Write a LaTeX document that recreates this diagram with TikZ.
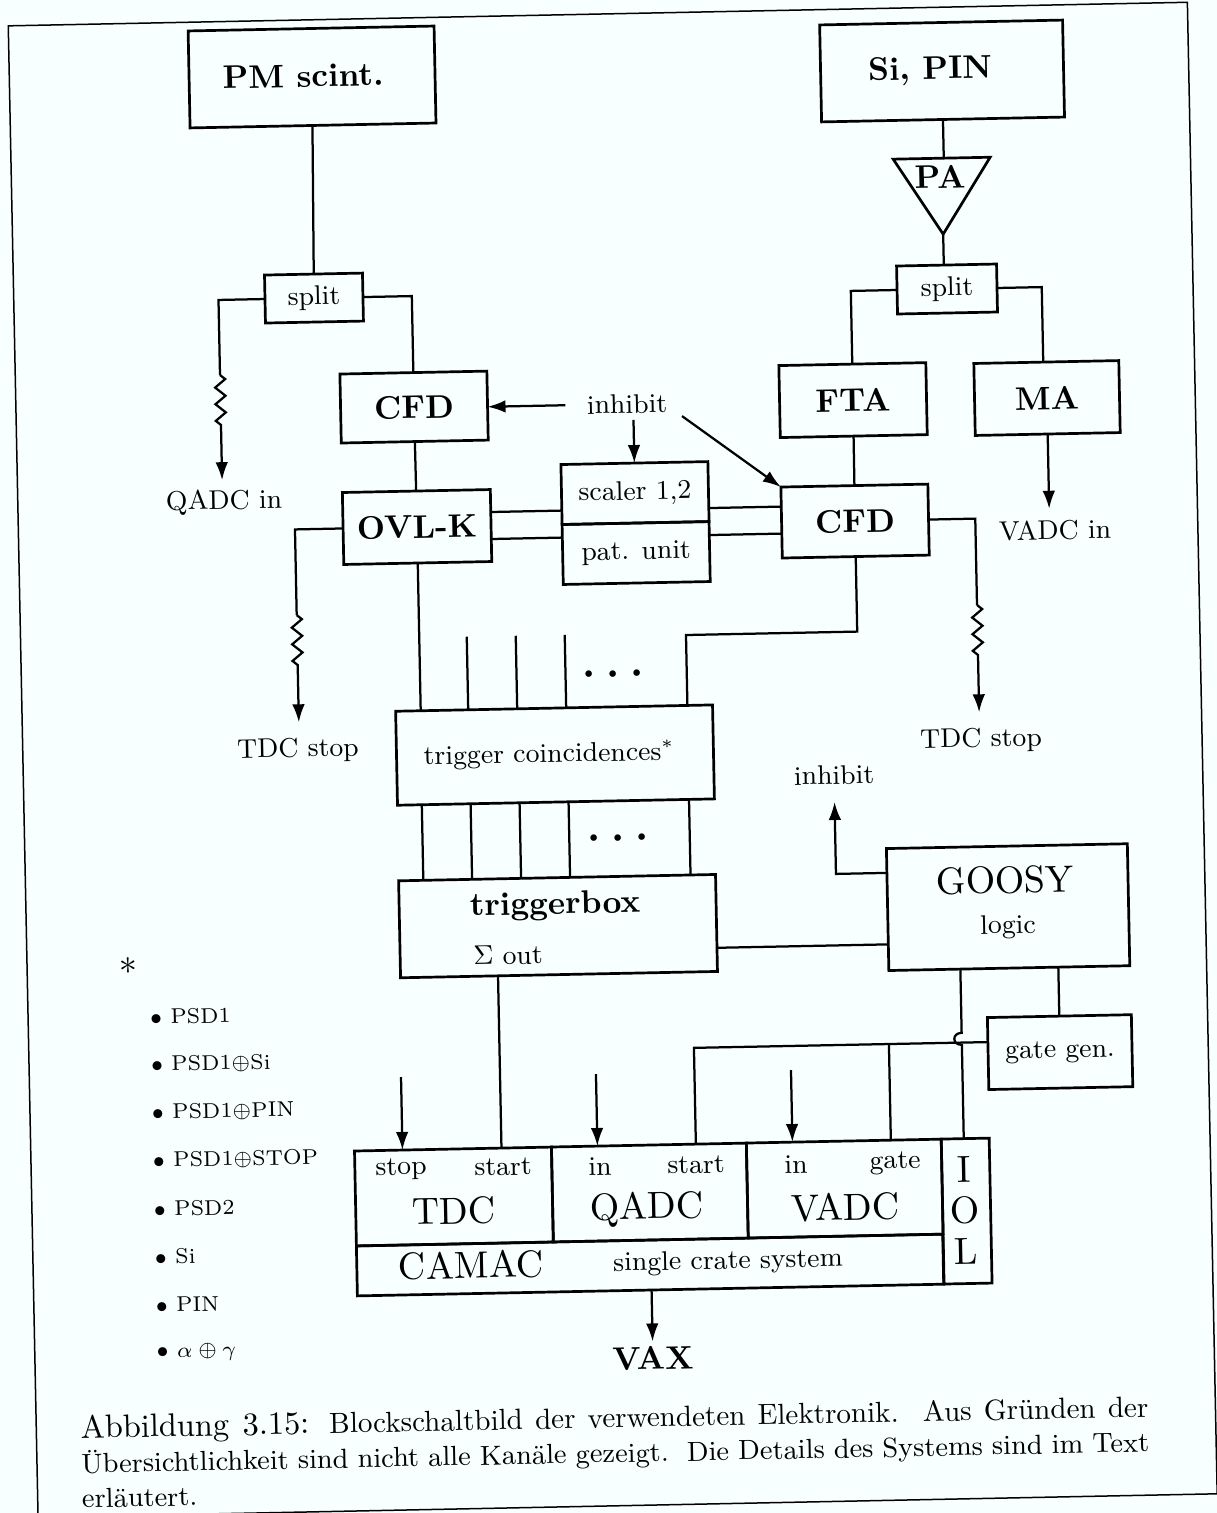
\documentclass[tikz,border=0pt]{standalone}
\usepackage{tikz}
\usepackage{graphicx}
\usetikzlibrary{arrows.meta, positioning, decorations.pathmorphing}
\definecolor{paper}{HTML}{F7FFFF}
\newcommand{\bigtext}[1]{\scalebox{1.09}{\normalsize\bfseries #1}}
\newcommand{\widetext}[1]{\scalebox{1.26}{\normalsize #1}}
\tikzset{box/.style={rectangle,draw,line width=.9pt,align=center,inner sep=0pt,outer sep=0pt,font=\small},lbl/.style={inner sep=2pt,font=\small},tag/.style={inner sep=0pt},line/.style={line width=.75pt},arrow/.style={line,-{Latex[length=6pt,width=4.2pt]}},zig/.style={line,decorate,decoration={zigzag,amplitude=1.7pt,segment length=5.55pt}},size/.style 2 args={minimum width=#1*.3333pt,minimum height=#2*.3333pt}}

\begin{document}
\begin{tikzpicture}
\useasboundingbox (0,0) rectangle (405.67pt,-504.33pt);
\fill[paper] (0,0) rectangle (405.67pt,-504.33pt);
\begin{scope}[rotate=1.146, transform shape, x=.3333pt, y=-.3333pt]
\node[draw, line width=.5pt, size={1179.5}{1492}] (frame) at (597.5,772) {};
% detectors
\node[box, size={246}{97}] (pm) at (310.5,83.2) {};
\node[tag] (pmtext) at (301.5,82) {\bigtext{PM scint.}};
\node[box, size={243}{97}] (si) at (940.6,89.8) {};
\node[tag] (sitext) at (928.6,89.6) {\bigtext{Si, PIN}};
\coordinate (pal) at (890,177);
\coordinate (par) at (987,177);
\coordinate (pab) at (938.5,253);
\draw[line width=.9pt] (pal) -- (par) -- (pab) -- cycle;
\node[tag] (pa) at (936.5,195.8) {\bigtext{PA}};
\node[box, size={98}{48}] (splita) at (308,304.3) {split};
\node[box, size={100}{48}] (splitb) at (941.2,307.9) {split};
% discriminators
\node[box, size={147}{69}] (cfda) at (405.9,415.3) {\bigtext{CFD}};
\node[box, size={148}{72}] (ovl) at (406.5,535.3) {\bigtext{OVL-K}};
\node[box, size={147}{72}] (fta) at (845,417.1) {\bigtext{FTA}};
\node[box, size={145}{72}] (ma) at (1039,418.9) {\bigtext{MA}};
\node[box, size={147}{71}] (cfdb) at (844.6,538.1) {\bigtext{CFD}};
\node[box, size={147}{60}] (scaler) at (625.1,505.7) {scaler 1,2};
\node[box, size={147}{60}, below=0pt of scaler] (pat) {pat. unit};
% trigger
\node[box, size={317}{94}] (coinc) at (539.9,766.1) {};
\node[lbl] (coinctext) at (534,766) {trigger coincidences$^*$};
\node[box, size={317}{97}] (tbox) at (539.5,937.2) {};
\node[tag] (tboxtext) at (536.9,917) {\bigtext{triggerbox}};
\node[lbl] (sumout) at (488.9,965.2) {$\Sigma$ out};
\node[box, size={241}{122}] (goosy) at (989.9,927.2) {};
\node[tag] (goosytext) at (987.4,900.1) {\widetext{GOOSY}};
\node[lbl] (logic) at (989.5,947) {logic};
\node[box, size={144}{72}] (gate) at (1039,1073.2) {gate gen.};
% crate
\node[box, size={197}{95}] (tdc) at (430,1205.5) {};
\node[box, size={195}{95}, right=0pt of tdc] (qadc) {};
\node[box, size={195}{95}, right=0pt of qadc] (vadc) {};
\node[box, size={586.5}{50}, anchor=north west] (camac) at (tdc.south west) {};
\node[box, size={48}{145}, anchor=north west] (iol) at (vadc.north east) {};
\node[lbl] (tdcstop) at (377.7,1177) {stop};
\node[lbl] (tdcstart) at (479.7,1177.1) {start};
\node[tag] (tdctext) at (429.8,1220) {\widetext{TDC}};
\node[lbl] (qadcin) at (576.7,1178) {in};
\node[lbl] (qadcstart) at (672.7,1178.9) {start};
\node[tag] (qadctext) at (622.8,1221.9) {\widetext{QADC}};
\node[lbl] (vadcin) at (772.7,1179.9) {in};
\node[lbl] (vadcgate) at (871.8,1181) {gate};
\node[tag] (vadctext) at (820.9,1223.9) {\widetext{VADC}};
\node[tag, align=center] (ioltext) at (940.5,1229.3) {\widetext{I}\\[1.6pt]\widetext{O}\\[1.6pt]\widetext{L}};
\node[tag] (camactext) at (445.7,1274.4) {\widetext{CAMAC}};
\node[lbl] (single) at (702.8,1276.6) {single crate system};
\node[inner sep=1.5pt] (vax) at (625.8,1371.1) {\bigtext{VAX}};
% labels
\node[lbl] (qadclab) at (214,506.5) {QADC in};
\node[lbl] (inhibita) at (618.9,416.5) {inhibit};
\node[lbl] (inhibitb) at (818.5,791.7) {inhibit};
\node[lbl] (stopa) at (283,756) {TDC stop};
\node[lbl] (stopb) at (966.2,759.6) {TDC stop};
\node[lbl] (vadclab) at (1044.4,551.1) {VADC in};
\node[tag] (dotsa) at (600,686) {\scalebox{1.4}{\normalsize\bfseries .\hspace{2.5pt}.\hspace{2.5pt}.}};
\node[tag] (dotsb) at (601,850) {\scalebox{1.4}{\normalsize\bfseries .\hspace{2.5pt}.\hspace{2.5pt}.}};
\node[font=\large, inner sep=0pt] (star) at (108.7,968.6) {$*$};
\foreach \name [count=\i from 0] in {PSD1,PSD1$\oplus$Si,PSD1$\oplus$PIN,PSD1$\oplus$STOP,PSD2,Si,PIN,$\alpha\oplus\gamma$}{
  \pgfmathsetmacro\ypos{1020+48*\i}
  \node[anchor=west, inner sep=0pt, font=\fontsize{7.1}{9}\selectfont] (item\i) at (129,\ypos) {$\bullet$ \name};
}
\node[anchor=north west, inner sep=0pt, align=left, font=\fontsize{9.2}{11.6}\selectfont] (caption) at (51.5,1416) {\hbox to 356pt{\fontsize{10.8}{12}\selectfont Abbildung 3.15: \fontsize{9.7}{12}\selectfont Blockschaltbild der verwendeten Elektronik.\ \ Aus Gründen der}\\
\hbox to 356pt{Übersichtlichkeit sind nicht alle Kanäle gezeigt.\ \ Die Details des Systems sind im Text}\\
erläutert.};
% connectors
\draw[line] (pm) -- (splita);
\coordinate (qadcup) at (212.5,379.4);
\coordinate (qadcdn) at (212.5,429.4);
\draw[line] (splita.west) -| (qadcup);
\draw[zig] (qadcup) -- (qadcdn);
\draw[arrow, shorten >=1pt] (qadcdn) -- (qadclab.north -| qadcdn);
\draw[line] (splita.east) -| (cfda.north);
\draw[line] (cfda) -- (ovl);
\draw[arrow, shorten <=5pt] (inhibita.west) -- (cfda.east |- inhibita.west);
\draw[arrow] (scaler.north |- inhibita.south) -- (scaler.north);
\draw[arrow] ([shift={(2.7pt,-4.4pt)}]inhibita.east) -- (cfdb.north west);
\draw[line] ([yshift=4.5pt]ovl.east) -- ([yshift=4.5pt]ovl.east -| scaler.west);
\draw[line] ([yshift=-4.5pt]ovl.east) -- ([yshift=-4.5pt]ovl.east -| pat.west);
\draw[line] ([yshift=5.3pt]cfdb.west) -- ([yshift=5.3pt]cfdb.west -| scaler.east);
\draw[line] ([yshift=-3.7pt]cfdb.west) -- ([yshift=-3.7pt]cfdb.west -| pat.east);
\coordinate (stopaup) at (284.4,621);
\coordinate (stopadn) at (284.4,671);
\draw[line] (ovl.west) -| (stopaup);
\draw[zig] (stopaup) -- (stopadn);
\draw[arrow, shorten >=3pt] (stopadn) -- (stopa.north -| stopadn);
\draw[line] (si) -- (si.south |- pal);
\draw[line] (pab) -- (splitb.north -| pab);
\draw[line] (splitb.west) -| (fta.north);
\draw[line] (splitb.east) -| ([xshift=-1pt]ma.north);
\draw[line] (fta) -- (cfdb);
\draw[arrow, shorten >=1.6pt] (ma.south) -- (vadclab.north -| ma.south);
\coordinate (stopbup) at (964.9,624.5);
\coordinate (stopbdn) at (964.9,676.6);
\draw[line] (cfdb.east) -| (stopbup);
\draw[zig] (stopbup) -- (stopbdn);
\draw[arrow, shorten >=3pt] (stopbdn) -- (stopb.north -| stopbdn);
\draw[line] (ovl.south) -- (ovl.south |- coinc.north);
\foreach \x in {454,503,552}{
  \draw[line] (\x,646) -- (\x,646 |- coinc.north);
}
\coordinate (cfdbelbow) at (673.3,648.7);
\draw[line] (cfdb.south) |- (cfdbelbow) -- (cfdbelbow |- coinc.north);
\foreach \x in {405.7,454.5,503.5,552.5,673}{
  \draw[line] (\x,0 |- coinc.south) -- (\x,0 |- tbox.north);
}
\draw[line] ([yshift=-8.3pt]tbox.east) -- ([yshift=-8.3pt]tbox.east -| goosy.west);
\draw[arrow, shorten >=3.6pt] ([yshift=12.2pt]goosy.west) -| (inhibitb.south);
\draw[line] (gate.north |- goosy.south) -- (gate.north);
\coordinate (hoptop) at (941,1052);
\coordinate (hopbot) at (941,1064);
\draw[line] (hoptop |- goosy.south) -- (hoptop) .. controls (931,1052) and (931,1064) .. (hopbot) -- (hopbot |- iol.north);
\coordinate (gateelbow) at (673,1061.7);
\draw[line] ([yshift=3.8pt]gate.west) -- (gateelbow) -- (gateelbow |- qadc.north);
\draw[line] (868,1061.7) -- (868,1061.7 |- vadc.north);
\draw[line] (478.5,0 |- tbox.south) -- (478.5,0 |- tdc.north);
\coordinate (tdcfeed) at (379.5,1085);
\coordinate (qadcfeed) at (574.5,1086);
\coordinate (vadcfeed) at (769.6,1086);
\draw[arrow] (tdcfeed) -- (tdcfeed |- tdc.north);
\draw[arrow] (qadcfeed) -- (qadcfeed |- qadc.north);
\draw[arrow] (vadcfeed) -- (vadcfeed |- vadc.north);
\draw[arrow] (vax.north |- camac.south) -- (vax.north);
\end{scope}
\end{tikzpicture}
\end{document}
